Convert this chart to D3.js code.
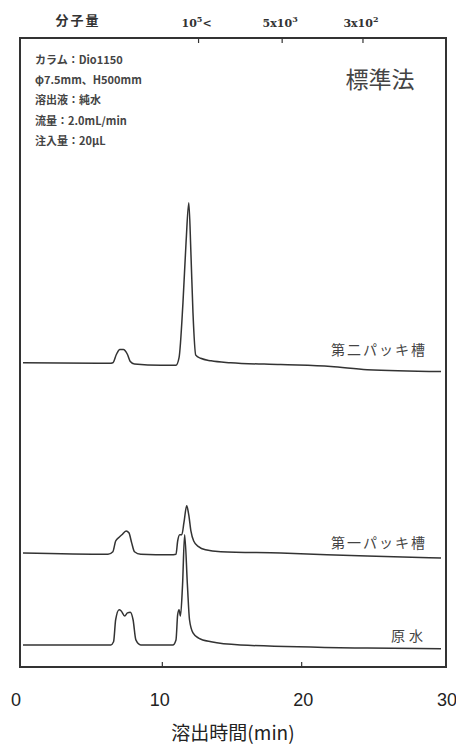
<!DOCTYPE html>
<html>
<head>
<meta charset="utf-8">
<script src="https://cdn.jsdelivr.net/npm/d3@7"></script>
<style>
  body { margin: 0; background: #fff; }
  svg { display: block; }
</style>
</head>
<body>
<div id="chart"></div>
<script>
// trace names, baselines (signal units) and the read-off chromatograms
const traceNames = ["第二パッキ槽", "第一パッキ槽", "原水"];
const traceOffsets = [48.3, 18.1, 3.5];

const t1 = [0, 6.2, 6.45, 6.7, 6.95, 7.2, 7.5, 7.7, 8.0, 9.9, 10.98, 11.2, 11.48, 11.7, 11.9, 12.05, 12.2, 12.4, 12.75, 13.5, 14.9, 18.5, 22.1, 24.7, 30];
const v1 = [0, -0.1, 0, 1.3, 2.1, 2.1, 1.3, 0.2, -0.2, -0.4, -0.4, 0.8, 9.5, 19, 25.4, 17.5, 7.9, 1.2, 0.7, 0.3, 0, -0.3, -0.6, -1.1, -1.4];

const t2 = [0, 6.1, 6.45, 6.65, 6.9, 7.1, 7.4, 7.6, 7.8, 8.0, 8.45, 10.6, 10.98, 11.1, 11.25, 11.4, 11.55, 11.75, 11.9, 12.05, 12.25, 12.6, 13.1, 14.2, 18.5, 24.7, 30];
const v2 = [0, -0.2, 0.2, 1.9, 2.5, 2.9, 3.5, 3.2, 1.6, 0.2, -0.2, -0.3, -0.2, 1.9, 2.9, 2.9, 4.8, 7.5, 6.0, 3.5, 1.9, 1.0, 0.5, 0.2, 0, -0.5, -0.8];

const t3 = [0, 6.3, 6.5, 6.65, 6.9, 7.05, 7.3, 7.5, 7.7, 7.9, 8.1, 8.45, 10.75, 10.98, 11.1, 11.2, 11.3, 11.45, 11.6, 11.8, 11.95, 12.2, 12.6, 13.5, 15.6, 24.7, 30];
const v3 = [0, 0, 0.5, 4.0, 5.6, 5.4, 4.6, 5.1, 5.2, 4.0, 0.8, 0, 0, 0.8, 4.8, 5.6, 4.6, 9.5, 17.5, 9.5, 4.0, 1.9, 1.1, 0.5, 0, -0.5, -0.6];

const times = [t1, t2, t3];
const values = [v1, v2, v3];

// bottom axis (elution time) and top axis (molecular weight)
const xTicks = [0, 10, 20, 30];
const mwTimes = [12.6, 18.6, 24.4];
const mwLabels = [["10", "5", "<"], ["5x10", "3", ""], ["3x10", "2", ""]];

const infoLines = ["カラム：Dio1150", "φ7.5mm、H500mm", "溶出液：純水", "流量：2.0mL/min", "注入量：20μL"];

const width = 456, height = 745;
const frame = { left: 20, right: 446, top: 38, bottom: 667 };
const ink = "#333";

const svg = d3.select("#chart").append("svg")
    .attr("width", width)
    .attr("height", height);

const x = d3.scaleLinear().domain([0, 30]).range([23, 441]);
const xLabel = d3.scaleLinear().domain([0, 30]).range([16, 447]);
const y = d3.scaleLinear().domain([0, 100]).range([frame.bottom, frame.top - 1]);

// frame, drawn as four separate edges
const edges = [
    [frame.left, frame.top, frame.right, frame.top],
    [frame.right, frame.top, frame.right, frame.bottom],
    [frame.left, frame.bottom, frame.right, frame.bottom],
    [frame.left, frame.top, frame.left, frame.bottom]
];
svg.selectAll(".edge")
    .data(edges)
    .enter().append("line")
    .attr("class", "edge")
    .attr("x1", d => d[0]).attr("y1", d => d[1])
    .attr("x2", d => d[2]).attr("y2", d => d[3])
    .attr("stroke", ink)
    .attr("stroke-width", 2)
    .attr("stroke-linecap", "square");

// bottom ticks
svg.selectAll(".btick")
    .data([10, 20])
    .enter().append("line")
    .attr("class", "btick")
    .attr("x1", d => x(d)).attr("x2", d => x(d))
    .attr("y1", frame.bottom).attr("y2", frame.bottom - 5)
    .attr("stroke", ink).attr("stroke-width", 1.2);

svg.selectAll(".xlab")
    .data(xTicks)
    .enter().append("text")
    .attr("class", "xlab")
    .attr("x", d => xLabel(d))
    .attr("y", 706)
    .attr("text-anchor", "middle")
    .attr("font-family", "Liberation Sans, Arial, sans-serif")
    .attr("font-size", 18)
    .attr("fill", "#222")
    .text(d => d);

svg.append("text")
    .attr("x", 233)
    .attr("y", 740)
    .attr("text-anchor", "middle")
    .attr("font-family", "Noto Sans CJK JP, sans-serif")
    .attr("font-size", 19)
    .attr("fill", "#222")
    .text("溶出時間(min)");

// top (molecular weight) ticks
svg.selectAll(".ttick")
    .data(mwTimes)
    .enter().append("line")
    .attr("class", "ttick")
    .attr("x1", d => x(d)).attr("x2", d => x(d))
    .attr("y1", frame.top).attr("y2", frame.top + 5)
    .attr("stroke", ink).attr("stroke-width", 1.2);

const mw = svg.selectAll(".mwlab")
    .data(mwTimes)
    .enter().append("text")
    .attr("class", "mwlab")
    .attr("x", d => x(d) - 2)
    .attr("y", 27)
    .attr("text-anchor", "middle")
    .attr("font-family", "DejaVu Serif, serif")
    .attr("font-size", 11)
    .attr("font-weight", "bold")
    .attr("fill", ink);

mw.each(function(d, i) {
    const t = d3.select(this);
    t.append("tspan").text(mwLabels[i][0]);
    t.append("tspan").attr("dy", -5).attr("font-size", 8).text(mwLabels[i][1]);
    if (mwLabels[i][2]) t.append("tspan").attr("dy", 5).text(mwLabels[i][2]);
});

svg.append("text")
    .attr("x", 78)
    .attr("y", 25)
    .attr("text-anchor", "middle")
    .attr("font-family", "Noto Sans CJK JP, sans-serif")
    .attr("font-size", 13)
    .attr("font-weight", "bold")
    .attr("letter-spacing", 2)
    .attr("fill", ink)
    .text("分子量");

// conditions block
svg.selectAll(".info")
    .data(infoLines)
    .enter().append("text")
    .attr("class", "info")
    .attr("x", 35)
    .attr("y", (d, i) => 64 + i * 20.2)
    .attr("font-family", "Noto Sans CJK JP, DejaVu Serif, serif")
    .attr("font-size", 11)
    .attr("font-weight", "bold")
    .attr("fill", "#444")
    .text(d => d);

svg.append("text")
    .attr("x", 380)
    .attr("y", 88)
    .attr("text-anchor", "middle")
    .attr("font-family", "Noto Sans CJK JP, sans-serif")
    .attr("font-size", 23)
    .attr("fill", "#444")
    .text("標準法");

// chromatogram traces
const line = d3.line()
    .x(d => x(d[0]))
    .y(d => y(d[1]))
    .curve(d3.curveMonotoneX);

traceNames.forEach((name, i) => {
    const pts = times[i].map((t, j) => [t, values[i][j] + traceOffsets[i]]);
    svg.append("path")
        .datum(pts)
        .attr("d", line)
        .attr("fill", "none")
        .attr("stroke", ink)
        .attr("stroke-width", 1.5)
        .attr("stroke-linejoin", "round");
});

// trace labels
const labelY = [355, 548, 641];
svg.selectAll(".tlab")
    .data(traceNames)
    .enter().append("text")
    .attr("class", "tlab")
    .attr("x", 427)
    .attr("y", (d, i) => labelY[i])
    .attr("text-anchor", "end")
    .attr("font-family", "Noto Sans CJK JP, sans-serif")
    .attr("font-size", 14)
    .attr("letter-spacing", (d, i) => i === 2 ? 4 : 2)
    .attr("fill", "#444")
    .text(d => d);
</script>
</body>
</html>
